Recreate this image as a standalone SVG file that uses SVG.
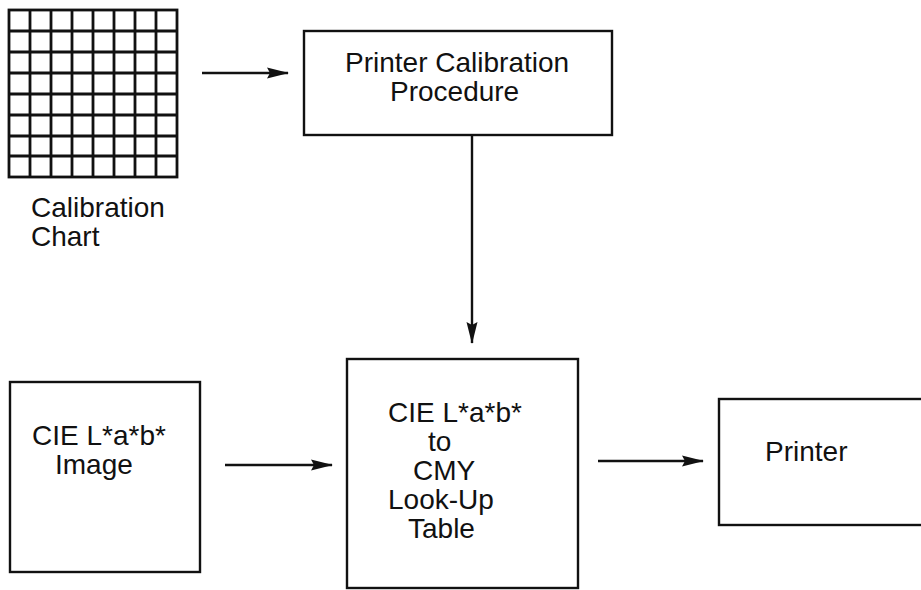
<svg xmlns="http://www.w3.org/2000/svg" width="921" height="590" viewBox="0 0 921 590">
<defs>
<style>
.box{fill:#fff;stroke:#111;stroke-width:2.4}
.grid{fill:none;stroke:#111;stroke-width:2.8}
.t{font-family:"Liberation Sans",Arial,sans-serif;font-size:28px;fill:#111}
.c{stroke:#111;stroke-width:2.4;fill:none}
</style>
<marker id="ah" markerWidth="22" markerHeight="12" refX="21" refY="6" orient="auto" markerUnits="userSpaceOnUse">
<path d="M0,0.5 L22,6 L0,11.5 L3,6 Z" fill="#111"/>
</marker>
</defs>
<rect width="921" height="590" fill="#fff"/>
<g id="calibration-chart">
<rect class="grid" x="9" y="10" width="168" height="167"/>
<path class="grid" d="M30,10V177M51,10V177M72,10V177M93,10V177M114,10V177M135,10V177M156,10V177M9,31H177M9,52H177M9,73H177M9,94H177M9,115H177M9,136H177M9,156H177"/>
<text class="t" x="31" y="217">Calibration</text>
<text class="t" x="31" y="246">Chart</text>
</g>
<g id="calibration-procedure">
<rect class="box" x="304" y="31" width="308" height="104"/>
<text class="t" x="345" y="72">Printer Calibration</text>
<text class="t" x="390" y="101">Procedure</text>
</g>
<g id="lab-image">
<rect class="box" x="10" y="382" width="190" height="190"/>
<text class="t" x="32" y="445">CIE L*a*b*</text>
<text class="t" x="55" y="474">Image</text>
</g>
<g id="lookup-table">
<rect class="box" x="347" y="359" width="231" height="229"/>
<text class="t" x="388" y="422">CIE L*a*b*</text>
<text class="t" x="428" y="451">to</text>
<text class="t" x="413" y="480">CMY</text>
<text class="t" x="388" y="509">Look-Up</text>
<text class="t" x="408" y="538">Table</text>
</g>
<g id="printer">
<rect class="box" x="719" y="399" width="215" height="126"/>
<text class="t" x="765" y="461">Printer</text>
</g>
<g id="connectors">
<line class="c" x1="202" y1="73" x2="288" y2="73" marker-end="url(#ah)"/>
<line class="c" x1="472" y1="135" x2="472" y2="343" marker-end="url(#ah)"/>
<line class="c" x1="225" y1="465" x2="332" y2="465" marker-end="url(#ah)"/>
<line class="c" x1="598" y1="461" x2="703" y2="461" marker-end="url(#ah)"/>
</g>
</svg>
